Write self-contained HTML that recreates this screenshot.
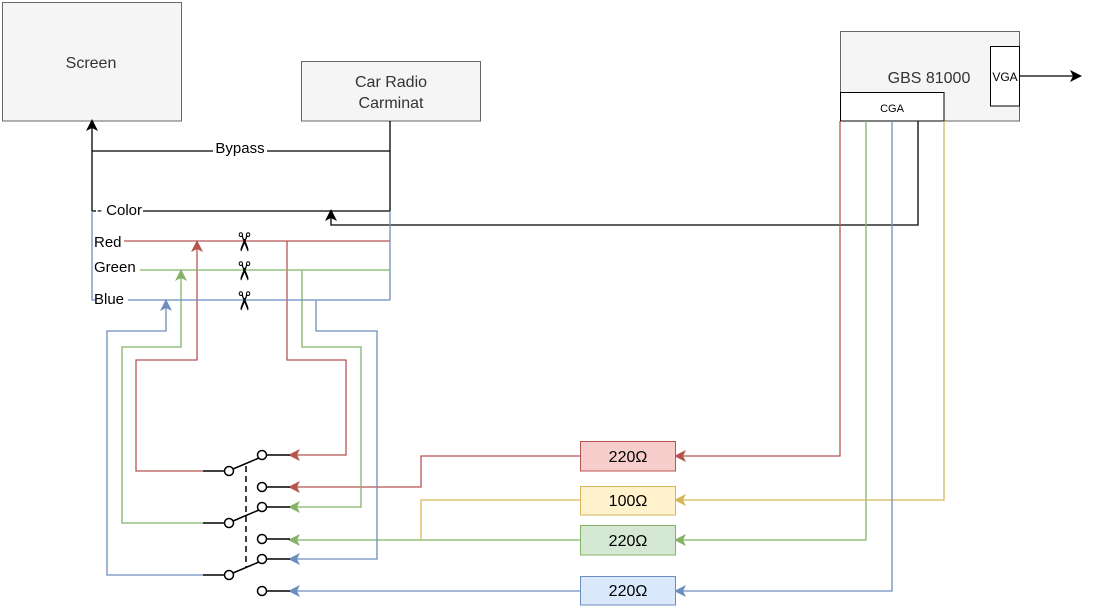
<!DOCTYPE html>
<html><head><meta charset="utf-8"><style>
html,body{margin:0;padding:0;background:#fff}
svg{display:block}
text{font-family:"Liberation Sans",Arial,sans-serif}
</style></head><body>
<svg width="1094" height="610" viewBox="0 0 1094 610" xmlns="http://www.w3.org/2000/svg">
<defs>
<marker id="ak" markerWidth="12" markerHeight="12" refX="10" refY="6" orient="auto" markerUnits="userSpaceOnUse"><path d="M0,0 L12,6 L0,12 L3,6 z" fill="#000"/></marker>
<marker id="ar" markerWidth="12" markerHeight="12" refX="10" refY="6" orient="auto" markerUnits="userSpaceOnUse"><path d="M0,0 L12,6 L0,12 L3,6 z" fill="#b85450"/></marker>
<marker id="ag" markerWidth="12" markerHeight="12" refX="10" refY="6" orient="auto" markerUnits="userSpaceOnUse"><path d="M0,0 L12,6 L0,12 L3,6 z" fill="#82b366"/></marker>
<marker id="ab" markerWidth="12" markerHeight="12" refX="10" refY="6" orient="auto" markerUnits="userSpaceOnUse"><path d="M0,0 L12,6 L0,12 L3,6 z" fill="#6c8ebf"/></marker>
<marker id="ay" markerWidth="12" markerHeight="12" refX="10" refY="6" orient="auto" markerUnits="userSpaceOnUse"><path d="M0,0 L12,6 L0,12 L3,6 z" fill="#d6b656"/></marker>
</defs>

<rect x="2.5" y="2.5" width="179" height="118.5" fill="#f5f5f5" stroke="#666"/>
<text x="91" y="68" font-size="16" text-anchor="middle" fill="#333">Screen</text>
<rect x="301.5" y="61.5" width="179" height="59.5" fill="#f5f5f5" stroke="#666"/>
<text x="391" y="87" font-size="16" text-anchor="middle" fill="#333">Car Radio</text>
<text x="391" y="108" font-size="16" text-anchor="middle" fill="#333">Carminat</text>
<rect x="840.5" y="31.5" width="179" height="89.5" fill="#f5f5f5" stroke="#666"/>
<text x="929" y="83" font-size="16" text-anchor="middle" fill="#333">GBS 81000</text>
<rect x="990.5" y="46.5" width="29" height="59.5" fill="#fff" stroke="#000"/>
<text x="1005" y="81" font-size="12" text-anchor="middle">VGA</text>
<rect x="840.5" y="92.5" width="103.5" height="28.5" fill="#fff" stroke="#000"/>
<text x="892" y="112" font-size="11" text-anchor="middle">CGA</text>
<line x1="1020" y1="76" x2="1080" y2="76" stroke="#000" stroke-width="1.2" marker-end="url(#ak)"/>

<g fill="none" stroke="#000" stroke-width="1.3">
<path d="M390,121 V211 H143"/>
<path d="M390,151 H267"/><path d="M213,151 H92"/>
<path d="M92,211 V121" marker-end="url(#ak)"/>
<path d="M92,211 H96"/>
<path d="M918,121 V225 H331 V211" marker-end="url(#ak)"/>
</g>
<text x="240" y="153" font-size="15" text-anchor="middle">Bypass</text>
<text x="97" y="215" font-size="15">- Color</text>

<g fill="none" stroke="#6c8ebf" stroke-width="1.3">
<path d="M92,211 V300 H96"/>
<path d="M390,211 V300"/>
</g>

<g fill="none" stroke="#b85450" stroke-width="1.3">
<path d="M124,241 H390"/>
<path d="M203,471 H136 V360 H197 V242" marker-end="url(#ar)"/>
<path d="M287,241 V360 H346 V455 H290" marker-end="url(#ar)"/>
<path d="M580,456 H421 V487 H290" marker-end="url(#ar)"/>
<path d="M840,121 V456 H676" marker-end="url(#ar)"/>
</g>
<g fill="none" stroke="#82b366" stroke-width="1.3">
<path d="M140,270 H390"/>
<path d="M203,523 H122 V347 H181 V271" marker-end="url(#ag)"/>
<path d="M302,270 V347 H361 V507 H290" marker-end="url(#ag)"/>
<path d="M580,540 H290" marker-end="url(#ag)"/>
<path d="M866,121 V540 H676" marker-end="url(#ag)"/>
</g>
<g fill="none" stroke="#d6b656" stroke-width="1.3">
<path d="M580,500 H421 V540"/>
<path d="M944,121 V500 H676" marker-end="url(#ay)"/>
</g>
<g fill="none" stroke="#6c8ebf" stroke-width="1.3">
<path d="M128,300 H390"/>
<path d="M203,575 H107 V331 H166 V301" marker-end="url(#ab)"/>
<path d="M316,300 V331 H377 V559 H290" marker-end="url(#ab)"/>
<path d="M580,591 H290" marker-end="url(#ab)"/>
<path d="M892,121 V591 H676" marker-end="url(#ab)"/>
</g>

<text x="94" y="247" font-size="15">Red</text>
<text x="94" y="272" font-size="15">Green</text>
<text x="94" y="304" font-size="15">Blue</text>

<g font-size="26" text-anchor="middle" font-family="DejaVu Sans, sans-serif">
<text x="244" y="251" transform="rotate(90 244 242)">✂</text>
<text x="244" y="280" transform="rotate(90 244 271)">✂</text>
<text x="244" y="310" transform="rotate(90 244 301)">✂</text>
</g>

<g fill="none" stroke="#000" stroke-width="1.5">
<path d="M203,471 H225"/><path d="M203,523 H225"/><path d="M203,575 H225"/>
<path d="M266,455 H290"/><path d="M266,487 H290"/><path d="M266,507 H290"/><path d="M266,539 H290"/><path d="M266,559 H290"/><path d="M266,591 H290"/>
<path d="M233,469 L259,458"/><path d="M233,521 L259,510"/><path d="M233,573 L259,562"/>
<path d="M246,466 V568" stroke-dasharray="6,4"/>
</g>
<g fill="#fff" stroke="#000" stroke-width="1.5">
<circle cx="229" cy="471" r="4.5"/><circle cx="229" cy="523" r="4.5"/><circle cx="229" cy="575" r="4.5"/>
<circle cx="262" cy="455" r="4.5"/><circle cx="262" cy="487" r="4.5"/>
<circle cx="262" cy="507" r="4.5"/><circle cx="262" cy="539" r="4.5"/>
<circle cx="262" cy="559" r="4.5"/><circle cx="262" cy="591" r="4.5"/>
</g>

<rect x="580.5" y="441.5" width="95" height="29.5" fill="#f8cecc" stroke="#b85450"/>
<text x="628" y="462" font-size="16" text-anchor="middle">220Ω</text>
<rect x="580.5" y="486.5" width="95" height="28.5" fill="#fff2cc" stroke="#d6b656"/>
<text x="628" y="506" font-size="16" text-anchor="middle">100Ω</text>
<rect x="580.5" y="525.5" width="95" height="29.5" fill="#d5e8d4" stroke="#82b366"/>
<text x="628" y="546" font-size="16" text-anchor="middle">220Ω</text>
<rect x="580.5" y="576.5" width="95" height="28.5" fill="#dae8fc" stroke="#6c8ebf"/>
<text x="628" y="596" font-size="16" text-anchor="middle">220Ω</text>
</svg>
</body></html>
